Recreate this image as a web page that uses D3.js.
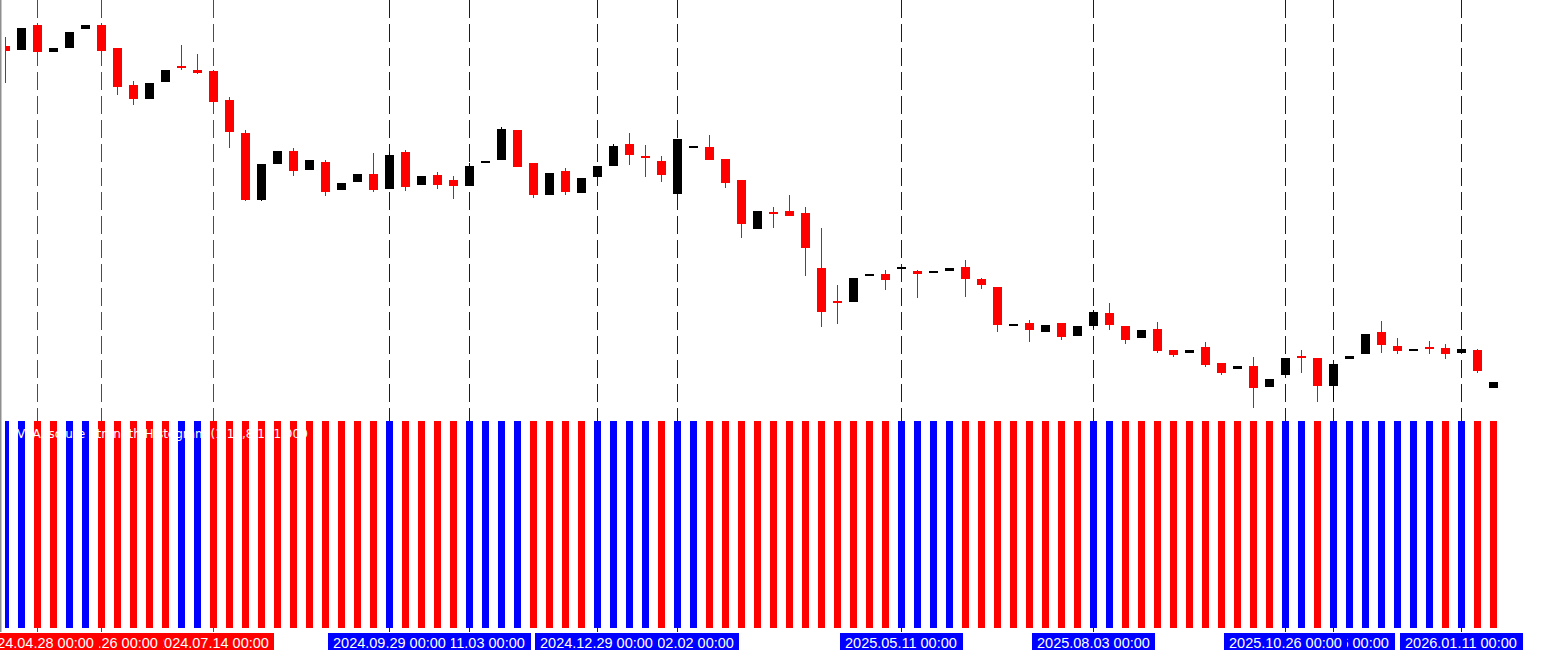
<!DOCTYPE html>
<html>
<head>
<meta charset="utf-8">
<script src="https://cdnjs.cloudflare.com/ajax/libs/d3/7.8.5/d3.min.js"></script>
<style>
  body { margin: 0; background: #fff; overflow: hidden; }
  svg { display: block; }
</style>
</head>
<body>
<div id="vis"></div>
<script>
var outer_width = 1559;
var outer_height = 655;

// weekly bars, first one 2024.04.14
var firstWeek = "2024.04.14";
var lastWeek = "2026.01.25";

var opens = [954,950,975,948,952,971,975,952,915,901,918,934,930,929,900,867,800,836,849,830,
  838,810,818,826,811,848,815,825,820,814,837.5,840,870,837,805,829,807,823,834,856,
  844,839,806,853,853,841,820,771,788,789,787,732,699,698,724,726,731,729,727,729,
  733,721,713,674,677,668,677,664,674,687,674,662,671,650,647,653,637,631,634,613,
  625,644,642,614,641,646,668,654,649,653,652,647,650,612];
var highs = [963,972,977,952,968,975,977,952,919,917,930,955,946,930,903,870,836,849,852,840,
  840,817,826,847,848,850,824,828,824,837,839,873,870,837,827,832,822,834,856,867,
  855,844,861,854,865,841,820,789,793,805,793,772,715,722,726,730,733,730,729,732,
  740,722,713,676,680,675,677,674,690,697,674,670,678,650,650,658,637,634,643,621,
  642,650,642,636,644,666,679,662,651,659,656,651,651,618];
var lows = [917,950,946,948,952,971,945,905,895,901,918,930,926,897,852,799,799,836,824,830,
  804,810,818,808,811,809,815,811,801,814,837,840,833,802,805,805,807,823,834,835,
  823,818,806,853,840,812,762,771,772,784,724,673,676,698,724,710,731,702,727,729,
  703,711,668,674,658,668,660,664,672,670,656,662,647,643,647,633,625,631,592,613,
  625,627,598,600,641,646,647,646,649,646,641,647,627,612];
var closes = [949,972,948,952,968,975,949,913,901,917,930,932,927,898,868,800,836,849,829,840,
  808,817,826,810,845,813,824,815,814,834,839,871,833,805,827,808,822,834,854,845,
  842,825,861,854,840,817,776,789,786,784,752,688,697,722,726,720,733,726,729,732,
  721,715,675,676,670,675,663,674,688,675,660,670,649,645,650,635,627,634,612,621,
  642,642,614,636,644,666,655,649,651,651,646,651,629,618];

// histogram: +1 = up (blue), -1 = down (red)
var histSign = [1,1,-1,-1,1,1,-1,-1,-1,-1,-1,1,1,-1,-1,-1,-1,-1,-1,-1,
  -1,-1,-1,-1,1,-1,-1,-1,-1,1,1,1,1,-1,-1,-1,-1,1,1,1,
  1,-1,1,1,-1,-1,-1,-1,-1,-1,-1,-1,-1,-1,-1,-1,1,1,1,1,
  -1,-1,-1,-1,-1,-1,-1,-1,1,1,-1,-1,-1,-1,-1,-1,-1,-1,-1,-1,
  1,1,-1,1,1,1,1,1,1,1,-1,1,-1,-1];

// vertical separators
var sepDates = ["2024.04.28","2024.05.26","2024.07.14","2024.09.29","2024.11.03","2024.12.29",
  "2025.02.02","2025.05.11","2025.08.03","2025.10.26","2025.11.16","2026.01.11"];

var histTitle = "VI Absolute Strength Histogram (1,13,8,1) 1.000";

var parseDay = d3.utcParse("%Y.%m.%d");
var fmtLabel = d3.utcFormat("%Y.%m.%d %H:%M");
var weeks = d3.utcWeek.range(parseDay(firstWeek), d3.utcDay.offset(parseDay(lastWeek), 1));

var bars = weeks.map(function(d, i){
  return {date: d, o: opens[i], h: highs[i], l: lows[i], c: closes[i], s: histSign[i]};
});

var upColor = "#0000ff";
var dnColor = "#ff0000";

var svg = d3.select("#vis")
  .append("svg")
  .attr("width", outer_width)
  .attr("height", outer_height);

var xScale = d3.scaleUtc()
  .domain([weeks[0], weeks[weeks.length - 1]])
  .range([5.5, 1493.5]);

var yScale = d3.scaleLinear()
  .domain([590, 1000])
  .range([410, 0]);

var hScale = d3.scaleLinear()
  .domain([0, 1])
  .range([628, 421]);

svg.append("clipPath")
  .attr("id", "plotclip")
  .append("rect")
  .attr("x", 5).attr("y", 0)
  .attr("width", outer_width - 5).attr("height", 632);

var plot = svg.append("g").attr("clip-path", "url(#plotclip)");

function weekIndex(dt){
  return weeks.findIndex(function(w){ return +w === +dt; });
}

var seps = sepDates.map(function(s){
  var dt = parseDay(s);
  var idx = weekIndex(dt);
  return {date: dt, color: histSign[idx] > 0 ? upColor : dnColor};
});

// separators behind everything
plot.selectAll(".sep")
  .data(seps)
  .enter()
  .append("line")
  .attr("class", "sep")
  .attr("x1", function(d){ return Math.round(xScale(d.date) - 0.5) + 0.5; })
  .attr("x2", function(d){ return Math.round(xScale(d.date) - 0.5) + 0.5; })
  .attr("y1", 0)
  .attr("y2", 632)
  .style("stroke", function(d){ return d.color; })
  .style("stroke-width", 1)
  .style("stroke-dasharray", "18,6");

//wicks
plot.selectAll(".wick")
  .data(bars)
  .enter()
  .append("line")
  .attr("class", "wick")
  .attr("x1", function(d){ return xScale(d.date); })
  .attr("x2", function(d){ return xScale(d.date); })
  .attr("y1", function(d){ return yScale(d.h); })
  .attr("y2", function(d){ return yScale(d.l); })
  .style("stroke", function(d){ return d.c >= d.o ? "#000" : dnColor; })
  .style("stroke-width", 1);

//bodies
plot.selectAll(".body")
  .data(bars)
  .enter()
  .append("rect")
  .attr("class", "body")
  .attr("x", function(d){ return xScale(d.date) - 4.5; })
  .attr("width", 9)
  .attr("y", function(d){ return yScale(Math.max(d.o, d.c)); })
  .attr("height", function(d){ return Math.max(2, Math.abs(yScale(d.o) - yScale(d.c))); })
  .style("fill", function(d){ return d.c >= d.o ? "#000" : dnColor; });

// histogram
plot.selectAll(".hbar")
  .data(bars)
  .enter()
  .append("rect")
  .attr("class", "hbar")
  .attr("x", function(d){ return xScale(d.date) - 3.5; })
  .attr("width", 7)
  .attr("y", function(d){ return hScale(Math.abs(d.s)); })
  .attr("height", function(d){ return hScale(0) - hScale(Math.abs(d.s)); })
  .style("fill", function(d){ return d.s > 0 ? upColor : dnColor; });

svg.append("text")
  .attr("x", 17)
  .attr("y", 438)
  .style("font-family", "DejaVu Sans")
  .style("font-size", "12px")
  .style("fill", "#fff")
  .text(histTitle);

// left border
svg.append("line")
  .attr("x1", 0.75).attr("x2", 0.75)
  .attr("y1", 0).attr("y2", 632)
  .style("stroke", "#8f8f8f")
  .style("stroke-width", 1.5);

// date labels, earlier ones on top
var labels = svg.selectAll(".datelbl")
  .data(seps.slice().reverse())
  .enter()
  .append("g")
  .attr("class", "datelbl")
  .attr("transform", function(d){ return "translate(" + (Math.round(xScale(d.date)) - 62) + ",633)"; });

labels.append("rect")
  .attr("width", 123)
  .attr("height", 17)
  .style("fill", function(d){ return d.color; });

labels.append("text")
  .attr("x", 5)
  .attr("y", 14.5)
  .style("font-family", "Liberation Sans")
  .style("font-size", "14.5px")
  .style("fill", "#fff")
  .text(function(d){ return fmtLabel(d.date); });
</script>
</body>
</html>
